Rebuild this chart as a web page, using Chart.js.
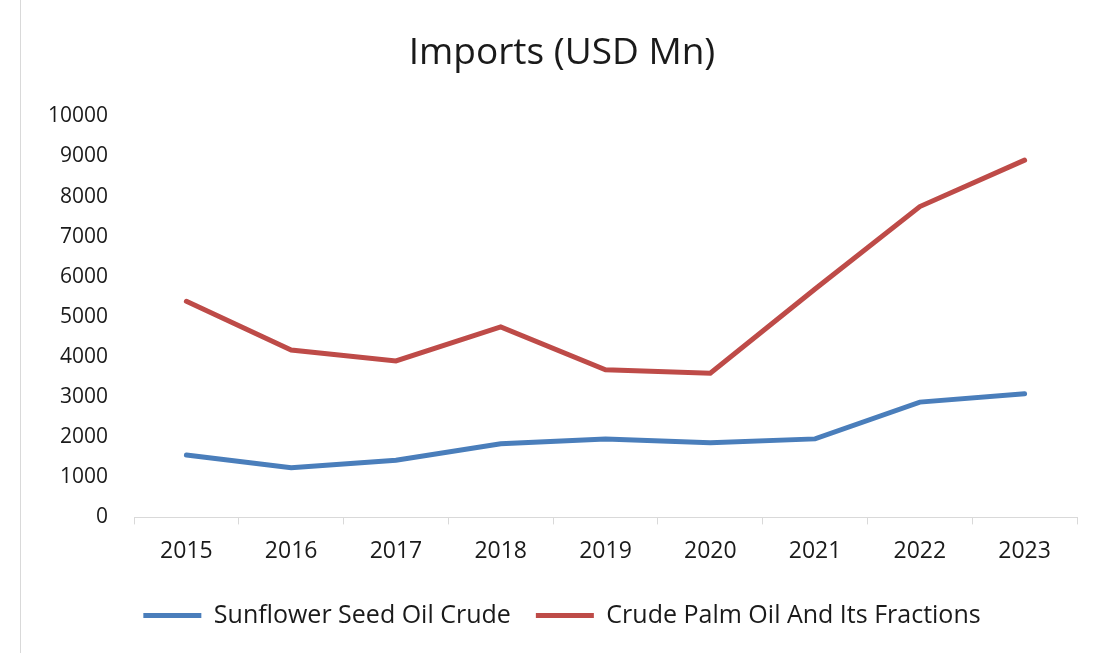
<!DOCTYPE html>
<html>
<head>
	<meta charset="utf-8">
	<title>Imports (USD Mn)</title>
	<script type="text/javascript" src="https://cdn.jsdelivr.net/npm/chart.js"></script>
</head>
<body>

<div class="chart-container">
	<canvas id="myChart"></canvas>
</div>

<script>
const years = ['2015', '2016', '2017', '2018', '2019', '2020', '2021', '2022', '2023']
const sunflower = [1554, 1240, 1423, 1834, 1958, 1859, 1958, 2875, 3084]
const palmOil = [5389, 4174, 3902, 4752, 3679, 3594, 5694, 7752, 8909]

const font = "'Open Sans', 'Noto Sans', sans-serif"

const ctx = document.getElementById('myChart').getContext('2d');
const chart = new Chart(ctx, {
	type: 'line',
	data: {
		labels: years,
		datasets: [{
			label: 'Sunflower Seed Oil Crude',
			data: sunflower,
			borderColor: '#4a7ebb',
			backgroundColor: '#4a7ebb',
			borderWidth: 5,
			borderCapStyle: 'round',
			pointRadius: 0,
			tension: 0
		}, {
			label: 'Crude Palm Oil And Its Fractions',
			data: palmOil,
			borderColor: '#be4b48',
			backgroundColor: '#be4b48',
			borderWidth: 5,
			borderCapStyle: 'round',
			pointRadius: 0,
			tension: 0
		}]
	},
	options: {
		responsive: true,
		maintainAspectRatio: false,
		animation: false,
		layout: {
			padding: { left: 0, right: 0, top: 0, bottom: 15 }
		},
		plugins: {
			title: {
				display: true,
				text: 'Imports (USD Mn)',
				color: '#1a1a1a',
				font: { family: font, size: 37, weight: 'normal' },
				padding: { top: 31, bottom: 41 }
			},
			legend: {
				position: 'bottom',
				labels: {
					color: '#1a1a1a',
					font: { family: font, size: 25 },
					usePointStyle: true,
					pointStyle: 'line',
					pointStyleWidth: 58,
					padding: 25
				}
			},
			tooltip: { enabled: false }
		},
		scales: {
			x: {
				offset: true,
				grid: {
					offset: true,
					drawOnChartArea: false,
					color: '#d9d9d9',
					tickLength: 7
				},
				border: { color: '#d9d9d9' },
				ticks: {
					color: '#1a1a1a',
					font: { family: font, size: 23 },
					padding: 13,
					maxRotation: 0
				}
			},
			y: {
				min: 0,
				max: 10000,
				afterFit: s => { s.width = 113 },
				grid: { display: false },
				border: { display: false },
				ticks: {
					stepSize: 1000,
					callback: v => String(v),
					color: '#1a1a1a',
					font: { family: font, size: 21 },
					padding: 18
				}
			},
			// empty right-hand axis, only keeps the plot clear of the right edge
			yRight: {
				position: 'right',
				min: 0,
				max: 10000,
				afterFit: s => { s.width = 26 },
				grid: { display: false },
				border: { display: false },
				ticks: { display: false }
			}
		}
	}
});
</script>
<style type="text/css">
body {
	margin: 0;
	background: #fff;
}
.chart-container {
	position: absolute;
	left: 20px;
	top: 0;
	width: 1082px;
	height: 653px;
	border-left: 1px solid #d9d9d9;
}
</style>
</body>
</html>
